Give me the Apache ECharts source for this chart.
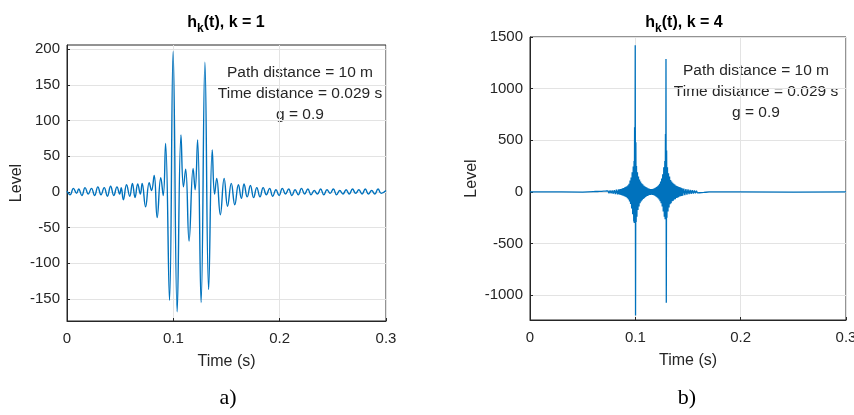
<!DOCTYPE html>
<html>
<head>
<meta charset="utf-8">
<script src="https://cdn.jsdelivr.net/npm/echarts@6/dist/echarts.min.js"></script>
<style>html,body{margin:0;padding:0;background:#fff;}#c{width:854px;height:415px;}</style>
</head>
<body>
<div id="c"></div>
<script>
// ---- data ----
const xTicks = [0, 0.1, 0.2, 0.3];
const leftYTicks = [-150, -100, -50, 0, 50, 100, 150, 200];
const rightYTicks = [-1000, -500, 0, 500, 1000, 1500];
const leftTitle = 'k = 1';
const rightTitle = 'k = 4';
const annotationLines = ['Path distance = 10 m', 'Time distance = 0.029 s', 'g = 0.9'];
const panelLabels = ['a)', 'b)'];

// h_k(t), k = 1 : [time (s), level]
const leftSignal = [
  [0.000, 1], [0.003, -4], [0.006, 5], [0.009, -2], [0.011, 4], [0.014, -5], [0.017, 6],
  [0.020, -3], [0.023, 5], [0.026, -5], [0.029, 7], [0.032, -4], [0.035, 6], [0.038, -6],
  [0.041, 8], [0.044, -5], [0.047, 7], [0.0495, -3], [0.051, 6], [0.053, -11], [0.056, 10],
  [0.059, -6], [0.0615, 12], [0.064, -8], [0.0665, 11], [0.069, -3], [0.0707, 12], [0.0739, -21],
  [0.0773, 13], [0.0795, 2], [0.082, 23], [0.0848, -36], [0.0882, 20], [0.0905, -5],
  [0.0927, 68], [0.0964, -152], [0.0998, 197], [0.1036, -168], [0.1072, 80], [0.1095, 7],
  [0.1116, 32], [0.1148, -69], [0.1186, 33], [0.1205, 3], [0.1228, 73], [0.1261, -155],
  [0.1297, 182], [0.1332, -137], [0.1366, 59], [0.1388, -3], [0.1408, 19], [0.1442, -32],
  [0.1478, 19], [0.1510, -20], [0.1545, 12], [0.1578, -18], [0.1612, 10], [0.1640, -9],
  [0.1665, 11], [0.1695, -7], [0.1725, 9], [0.1755, -8], [0.1785, 6], [0.1815, -7],
  [0.1845, 6], [0.1875, -4], [0.1905, 5], [0.1935, -6], [0.1965, 3], [0.1995, -5],
  [0.2025, 5], [0.2055, -3], [0.2085, 4], [0.2115, -5], [0.2145, 3], [0.2175, -4],
  [0.2205, 5], [0.2235, -3], [0.2265, 4], [0.2295, -4], [0.2325, 2], [0.2355, -3],
  [0.2385, 4], [0.2415, -4], [0.2445, 3], [0.2475, -2], [0.2505, 4], [0.2535, -4],
  [0.2565, 2], [0.2595, -3], [0.2625, 3], [0.2655, -3], [0.2685, 4], [0.2715, -2],
  [0.2745, 3], [0.2775, -3], [0.2805, 4], [0.2835, -3], [0.2865, 2], [0.2895, -3],
  [0.2925, 4], [0.2955, -2], [0.300, 2]
];

// h_k(t), k = 4 : [time (s), level]
const rightSignal = [
  [0.000, 0], [0.030, 1], [0.050, -2], [0.060, 3], [0.061, -3], [0.062, 4], [0.063, -4],
  [0.064, 4], [0.065, -5], [0.066, 5], [0.067, -6], [0.068, 6], [0.069, -7], [0.070, 8],
  [0.071, -8], [0.072, 9], [0.073, -10], [0.074, 11], [0.075, -12], [0.076, 13], [0.077, -14],
  [0.078, 15], [0.079, -17], [0.080, 18], [0.081, -20], [0.082, 21], [0.083, -23],
  [0.0840, 24], [0.0845, -25], [0.0850, 26], [0.0855, -27], [0.0860, 28], [0.0865, -30],
  [0.0870, 31], [0.0875, -33], [0.0880, 34], [0.0885, -36], [0.0890, 38], [0.0895, -41],
  [0.0900, 44], [0.0905, -47], [0.0910, 50], [0.0915, -52], [0.0920, 55], [0.0925, -60],
  [0.0930, 65], [0.0935, -72], [0.0940, 78], [0.0945, -92], [0.0950, 110], [0.0955, -116],
  [0.0960, 140], [0.0965, -160], [0.0970, 190], [0.0975, -215], [0.0980, 245], [0.0985, -287],
  [0.0988, 300], [0.0990, -300], [0.0993, 625], [0.0996, -300], [0.0999, 1420], [0.1002, -1196],
  [0.1005, 480], [0.1008, -290], [0.1011, 250], [0.1015, -240], [0.1020, 190], [0.1025, -175],
  [0.1030, 150], [0.1035, -140], [0.1040, 120], [0.1045, -110], [0.1050, 100], [0.1055, -92],
  [0.1060, 85], [0.1065, -80], [0.1070, 75], [0.1075, -68], [0.1080, 62], [0.1085, -60],
  [0.1090, 55], [0.1095, -50], [0.1100, 48], [0.1105, -45], [0.1110, 42], [0.1115, -38],
  [0.1120, 36], [0.1125, -34], [0.1130, 32], [0.1135, -30], [0.1140, 28], [0.1145, -28],
  [0.1150, 27], [0.1155, -27], [0.1160, 28], [0.1165, -29], [0.1170, 30], [0.1175, -32],
  [0.1180, 34], [0.1185, -37], [0.1190, 40], [0.1195, -44], [0.1200, 48], [0.1205, -52],
  [0.1210, 55], [0.1215, -60], [0.1220, 65], [0.1225, -72], [0.1230, 80], [0.1235, -90],
  [0.1240, 100], [0.1245, -110], [0.1250, 130], [0.1255, -140], [0.1260, 170], [0.1265, -190],
  [0.1270, 240], [0.1275, -240], [0.1280, 300], [0.1283, -265], [0.1286, 560], [0.1289, -265],
  [0.1291, 1286], [0.1294, -1073], [0.1297, 400], [0.1300, -250], [0.1305, 240], [0.1310, -190],
  [0.1315, 180], [0.1320, -150], [0.1325, 150], [0.1330, -120], [0.1335, 115], [0.1340, -110],
  [0.1345, 100], [0.1350, -90], [0.1355, 88], [0.1360, -85], [0.1365, 78], [0.1370, -72],
  [0.1375, 71], [0.1380, -70], [0.1385, 62], [0.1390, -58], [0.1395, 56], [0.1400, -55],
  [0.1405, 52], [0.1410, -50], [0.1415, 48], [0.1420, -45], [0.1425, 44], [0.1430, -42],
  [0.1435, 40], [0.1440, -38], [0.1445, 36], [0.1450, -35],
  [0.146, 33], [0.147, -30], [0.148, 28], [0.149, -26], [0.150, 25], [0.151, -22],
  [0.152, 20], [0.153, -18], [0.154, 17], [0.155, -15], [0.156, 14], [0.157, -12],
  [0.158, 11], [0.159, -10], [0.160, 9], [0.161, -8], [0.162, 7], [0.163, -6],
  [0.164, 5], [0.165, -5], [0.166, 4], [0.167, -3], [0.168, 3], [0.170, 0],
  [0.200, 1], [0.250, -1], [0.300, 0]
];

// ---- chart ----
const FONT = '"Liberation Sans", Arial, Helvetica, sans-serif';
const AX = '#262626';
const GRIDC = '#e3e3e3';
const LINE = '#0072BD';

function xAxisCfg(gi) {
  return {
    type: 'value', gridIndex: gi, min: 0, max: 0.3,
    name: 'Time (s)', nameLocation: 'middle', nameGap: 33,
    nameTextStyle: { fontFamily: FONT, fontSize: 16, color: AX },
    axisLine: { show: true, onZero: false, lineStyle: { color: AX, width: 1 } },
    axisTick: { show: true, inside: true, length: 3, customValues: xTicks, lineStyle: { color: AX } },
    axisLabel: { customValues: xTicks, fontFamily: FONT, fontSize: 15, color: AX, margin: 10,
      formatter: v => String(v) },
    splitLine: { show: true, lineStyle: { color: GRIDC, width: 1 } }
  };
}
function yAxisCfg(gi, mn, mx, ticks, gap) {
  return {
    type: 'value', gridIndex: gi, min: mn, max: mx,
    name: 'Level', nameLocation: 'middle', nameGap: gap,
    nameTextStyle: { fontFamily: FONT, fontSize: 16, color: AX },
    axisLine: { show: true, lineStyle: { color: AX, width: 1 } },
    axisTick: { show: true, inside: true, length: 3, customValues: ticks, lineStyle: { color: AX } },
    axisLabel: { customValues: ticks, fontFamily: FONT, fontSize: 15, color: AX, margin: 7,
      formatter: v => String(v) },
    splitLine: { show: true, lineStyle: { color: GRIDC, width: 1 } }
  };
}
function titleCfg(sub, cx) {
  return {
    text: '{b|h}{s|k}{b|(t), ' + sub + '}',
    left: cx, top: 6, textAlign: 'center',
    textStyle: {
      rich: {
        b: { fontFamily: FONT, fontSize: 16, fontWeight: 'bold', color: '#000' },
        s: { fontFamily: FONT, fontSize: 12, fontWeight: 'bold', color: '#000', padding: [12, 0, 0, 0] }
      }
    }
  };
}

const chart = echarts.init(document.getElementById('c'), null, { renderer: 'canvas' });
chart.setOption({
  animation: false,
  backgroundColor: '#fff',
  title: [titleCfg(leftTitle, 221), titleCfg(rightTitle, 679)],
  grid: [
    { left: 67, top: 45, width: 319, height: 276, show: true, borderColor: AX, borderWidth: 1,
      containLabel: false, outerBoundsMode: 'none' },
    { left: 530, top: 37, width: 316, height: 283, show: true, borderColor: AX, borderWidth: 1,
      containLabel: false, outerBoundsMode: 'none' }
  ],
  xAxis: [xAxisCfg(0), xAxisCfg(1)],
  yAxis: [yAxisCfg(0, -181, 206, leftYTicks, 42), yAxisCfg(1, -1240, 1500, rightYTicks, 50)],
  series: [
    { type: 'line', xAxisIndex: 0, yAxisIndex: 0, data: leftSignal, showSymbol: false, smooth: 0.45,
      lineStyle: { color: LINE, width: 1.4 }, clip: true },
    { type: 'line', xAxisIndex: 1, yAxisIndex: 1, data: rightSignal, showSymbol: false,
      lineStyle: { color: LINE, width: 1.3 }, clip: true }
  ],
  graphic: [
    { type: 'text', x: 300, y: 94, style: { text: annotationLines.join('\n'), align: 'center', verticalAlign: 'middle',
      lineHeight: 21, fontFamily: FONT, fontSize: 15.5, fill: AX } },
    { type: 'text', x: 756, y: 92, style: { text: annotationLines.join('\n'), align: 'center', verticalAlign: 'middle',
      lineHeight: 21, fontFamily: FONT, fontSize: 15.5, fill: AX } },
    { type: 'text', x: 228, y: 398, style: { text: panelLabels[0], align: 'center', verticalAlign: 'middle',
      fontFamily: '"Liberation Serif", "Times New Roman", serif', fontSize: 22, fill: '#000' } },
    { type: 'text', x: 687, y: 398, style: { text: panelLabels[1], align: 'center', verticalAlign: 'middle',
      fontFamily: '"Liberation Serif", "Times New Roman", serif', fontSize: 22, fill: '#000' } }
  ]
});
</script>
</body>
</html>
